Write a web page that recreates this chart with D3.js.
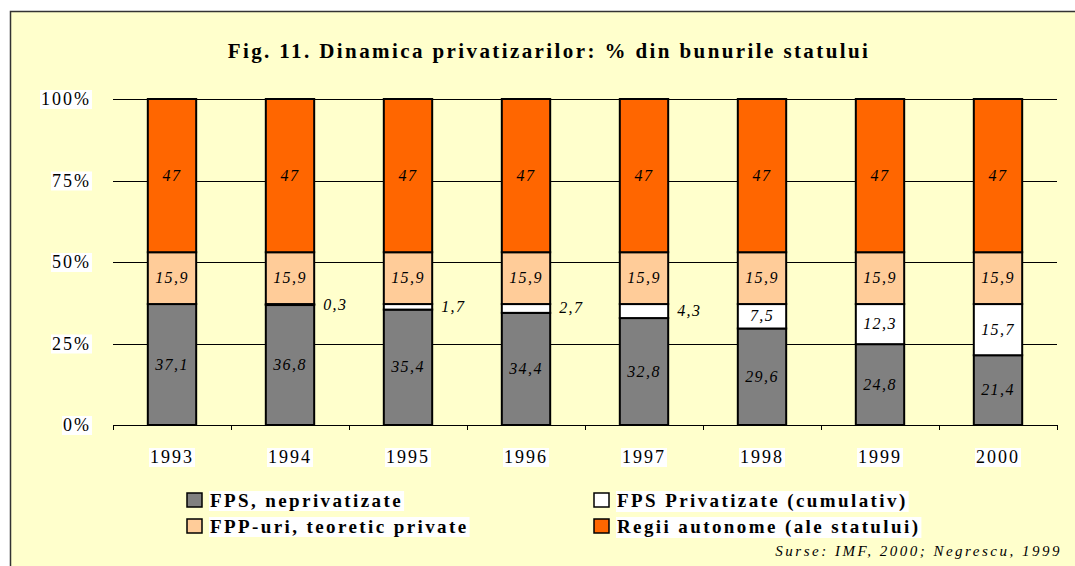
<!DOCTYPE html>
<html>
<head>
<meta charset="utf-8">
<script src="https://cdn.jsdelivr.net/npm/d3@7"></script>
<style>
  html, body { margin: 0; padding: 0; background: #fff; }
  svg { display: block; }
</style>
</head>
<body>
<div id="chart"></div>
<script>
const years = ["1993", "1994", "1995", "1996", "1997", "1998", "1999", "2000"];
const fpsNepriv = [37.1, 36.8, 35.4, 34.4, 32.8, 29.6, 24.8, 21.4];
const fpsPriv = [0, 0.3, 1.7, 2.7, 4.3, 7.5, 12.3, 15.7];
const fppUri = [15.9, 15.9, 15.9, 15.9, 15.9, 15.9, 15.9, 15.9];
const regii = [47, 47, 47, 47, 47, 47, 47, 47];
const yTicks = [0, 25, 50, 75, 100];

const seriesNames = ["FPS, neprivatizate", "FPS Privatizate (cumulativ)", "FPP-uri, teoretic private", "Regii autonome (ale statului)"];
const seriesColors = ["#808080", "#FFFFFF", "#FFCC99", "#FF6600"];
const seriesValues = [fpsNepriv, fpsPriv, fppUri, regii];

const W = 1075, H = 566;
const margin = {top: 99, left: 113, right: 18, bottom: 141};
const width = W - margin.left - margin.right,
      height = H - margin.top - margin.bottom;
const serif = "'Liberation Serif', 'Times New Roman', serif";

const svg = d3.select("#chart").append("svg")
    .attr("width", W)
    .attr("height", H);

// background frame
svg.append("rect")
    .attr("x", 10.5).attr("y", 11.5)
    .attr("width", W + 10).attr("height", H + 10)
    .attr("fill", "#FFFFCC")
    .attr("stroke", "#333").attr("stroke-width", 1.5);

svg.append("text")
    .attr("x", 549).attr("y", 58)
    .attr("text-anchor", "middle")
    .style("font-family", serif)
    .style("font-weight", "bold")
    .style("font-size", "21px")
    .style("letter-spacing", "2.4px")
    .text("Fig. 11. Dinamica privatizarilor: % din bunurile statului");

const g = svg.append("g").attr("transform", `translate(${margin.left},${margin.top})`);

const table = years.map((y, i) => {
    const row = {year: y};
    seriesValues.forEach((arr, k) => row["s" + k] = arr[i]);
    return row;
});
const keys = seriesValues.map((d, k) => "s" + k);
const stacked = d3.stack().keys(keys)(table);

const x = d3.scaleBand().domain(years).range([0, width]).paddingInner(0.59).paddingOuter(0.295);
const y = d3.scaleLinear().domain([0, 100]).range([height, 0]);

// gridlines
g.selectAll(".grid")
    .data(yTicks)
    .enter().append("line")
    .attr("x1", 0).attr("x2", width)
    .attr("y1", d => Math.round(y(d)) + 0.5).attr("y2", d => Math.round(y(d)) + 0.5)
    .attr("stroke", "#000").attr("stroke-width", 1);

// x axis ticks between categories
const step = x.step();
g.selectAll(".xtick")
    .data(d3.range(years.length + 1))
    .enter().append("line")
    .attr("x1", d => Math.round(d * step) + 0.5).attr("x2", d => Math.round(d * step) + 0.5)
    .attr("y1", height).attr("y2", height + 5)
    .attr("stroke", "#000");

function labelWithBg(parent, tx, ty, txt, anchor, size, spacing, bold) {
    const t = parent.append("text")
        .attr("x", tx).attr("y", ty)
        .attr("text-anchor", anchor)
        .style("font-family", serif)
        .style("font-size", size + "px")
        .style("letter-spacing", spacing + "px")
        .style("font-weight", bold ? "bold" : "normal")
        .text(txt);
    const bb = t.node().getBBox();
    parent.insert("rect", () => t.node())
        .attr("x", bb.x - 1).attr("y", bb.y + 1)
        .attr("width", bb.width + 2).attr("height", bb.height - 1)
        .attr("fill", "#fff");
    return t;
}

// y axis labels
yTicks.forEach(d => {
    labelWithBg(g, -22, y(d) + 6, d + "%", "end", 18, 2);
});

// x axis labels
years.forEach(d => {
    labelWithBg(g, x(d) + x.bandwidth() / 2, height + 38, d, "middle", 18, 2);
});

// bars
const layers = g.selectAll(".layer")
    .data(stacked)
    .enter().append("g")
    .attr("fill", (d, i) => seriesColors[i]);

layers.selectAll("rect")
    .data(d => d.filter(p => p[1] - p[0] > 0))
    .enter().append("rect")
    .attr("x", d => x(d.data.year))
    .attr("y", d => y(d[1]))
    .attr("width", x.bandwidth())
    .attr("height", d => y(d[0]) - y(d[1]))
    .attr("stroke", "#000")
    .attr("stroke-width", 2);

// value labels
const fmt = v => String(v).replace(".", ",");
seriesValues.forEach((arr, k) => {
    arr.forEach((v, i) => {
        if (v <= 0) return;
        const p = stacked[k][i];
        const cy = (y(p[0]) + y(p[1])) / 2;
        const outside = k === 1 && v < 5;
        g.append("text")
            .attr("x", outside ? x(years[i]) + x.bandwidth() + 9 : x(years[i]) + x.bandwidth() / 2)
            .attr("y", cy + 5)
            .attr("text-anchor", outside ? "start" : "middle")
            .style("font-family", serif)
            .style("font-style", "italic")
            .style("font-size", "16px")
            .style("letter-spacing", "1.4px")
            .attr("fill", "#000")
            .text(fmt(v));
    });
});

// legend
const legendPos = [[187, 500], [594, 500], [187, 526], [594, 526]];
seriesNames.forEach((name, i) => {
    const [lx, ly] = legendPos[i];
    svg.append("rect")
        .attr("x", lx).attr("y", ly - 7)
        .attr("width", 15).attr("height", 14)
        .attr("fill", seriesColors[i])
        .attr("stroke", "#000").attr("stroke-width", 1.5);
    labelWithBg(svg, lx + 23, ly + 7, name, "start", 19, 2.4, true);
});

svg.append("text")
    .attr("x", 1062).attr("y", 556)
    .attr("text-anchor", "end")
    .style("font-family", serif)
    .style("font-style", "italic")
    .style("font-size", "15px")
    .style("letter-spacing", "2.5px")
    .text("Surse: IMF, 2000; Negrescu, 1999");
</script>
</body>
</html>
